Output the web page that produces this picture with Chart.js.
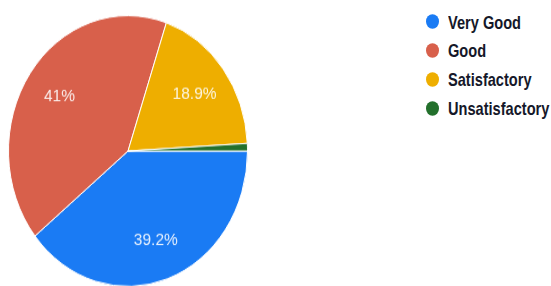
<!DOCTYPE html>
<html>
<head>
<meta charset="utf-8">
<script src="https://cdn.jsdelivr.net/npm/chart.js@4.4.0/dist/chart.umd.min.js"></script>
<style>
  html, body { margin: 0; padding: 0; background: #fff; }
  body { width: 551px; height: 286px; position: relative; overflow: hidden; font-family: "Liberation Sans", Arial, sans-serif; }
  /* the photo squashes the pie into a slight ellipse */
  #pie { position: absolute; left: 8px; top: 31px; transform: scaleY(1.133); transform-origin: 50% 50%; }
  #legend { position: absolute; left: 426px; top: 7px; margin: 0; padding: 0; list-style: none; }
  #legend li { display: flex; align-items: center; height: 29px; }
  #legend .dot { width: 13px; height: 13px; border-radius: 50%; margin-right: 9px; transform: scaleY(1.12); }
  #legend .txt { font-weight: bold; font-size: 14.6px; color: #151829; transform: scaleY(1.3); transform-origin: left center; white-space: nowrap; }
</style>
</head>
<body>
<canvas id="pie" width="240" height="240"></canvas>
<ul id="legend"></ul>
<script>
const categories = ['Very Good', 'Good', 'Satisfactory', 'Unsatisfactory'];
const shares = [39.2, 41, 18.9, 0.9];
const sliceColors = ['#1a7bf4', '#d8604b', '#eeae00', '#23702c'];

// percentage text inside the slices (small slices get none)
const sliceLabels = {
  id: 'sliceLabels',
  afterDatasetsDraw(chart) {
    const { ctx } = chart;
    const data = chart.data.datasets[0].data;
    const total = data.reduce((a, b) => a + b, 0);
    const meta = chart.getDatasetMeta(0);
    ctx.save();
    ctx.font = '15.5px "Liberation Sans", Arial, sans-serif';
    ctx.fillStyle = 'rgba(255, 255, 255, 0.88)';
    ctx.textAlign = 'center';
    ctx.textBaseline = 'middle';
    meta.data.forEach((arc, i) => {
      const pct = data[i] / total * 100;
      if (pct < 5) return;
      const { x, y, startAngle, endAngle, outerRadius } =
        arc.getProps(['x', 'y', 'startAngle', 'endAngle', 'outerRadius'], true);
      const mid = (startAngle + endAngle) / 2;
      const r = outerRadius * 0.7;
      ctx.fillText(Math.round(pct * 10) / 10 + '%', x + Math.cos(mid) * r, y + Math.sin(mid) * r);
    });
    ctx.restore();
  }
};

const chart = new Chart(document.getElementById('pie'), {
  type: 'pie',
  data: {
    labels: categories,
    datasets: [{
      data: shares,
      backgroundColor: sliceColors,
      borderColor: '#fff',
      borderWidth: 1,
    }],
  },
  options: {
    responsive: false,
    animation: false,
    rotation: 90,
    layout: { padding: 0 },
    plugins: {
      legend: { display: false },
      tooltip: { enabled: false },
    },
  },
  plugins: [sliceLabels],
});

// html legend built from the chart's own legend items
const legendEl = document.getElementById('legend');
chart.options.plugins.legend.labels.generateLabels(chart).forEach(item => {
  const li = document.createElement('li');
  const dot = document.createElement('span');
  dot.className = 'dot';
  dot.style.background = item.fillStyle;
  const txt = document.createElement('span');
  txt.className = 'txt';
  txt.textContent = item.text;
  li.appendChild(dot);
  li.appendChild(txt);
  legendEl.appendChild(li);
});
</script>
</body>
</html>
